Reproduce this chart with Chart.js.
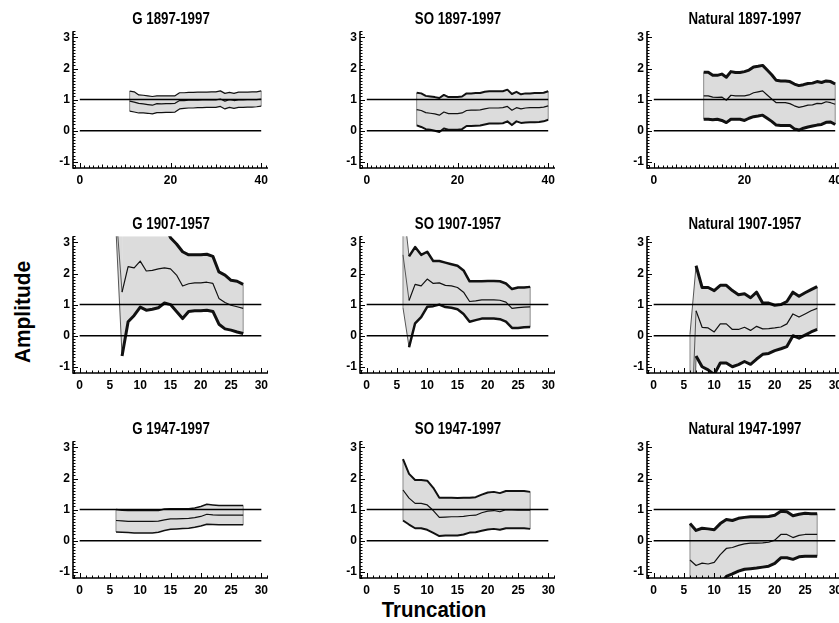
<!DOCTYPE html>
<html><head><meta charset="utf-8">
<script src="https://cdn.jsdelivr.net/npm/chart.js@4"></script>
<style>
html,body{margin:0;padding:0;background:#fff;overflow:hidden;width:839px;height:623px;position:relative;}
canvas.p{position:absolute;}
.lab{position:absolute;font-family:'Liberation Sans',Arial,sans-serif;font-weight:bold;color:#000;white-space:nowrap;line-height:1;}
</style></head><body>
<div class="lab" style="left:23px;top:312px;font-size:22px;transform:translate(-50%,-50%) rotate(-90deg) scaleX(0.95);">Amplitude</div>
<div class="lab" style="left:434px;top:610px;font-size:22px;transform:translate(-50%,-50%) scaleX(0.93);">Truncation</div>
<script>
// ---- categories (truncation) ----
const xLong = [11,12,13,14,15,16,17,18,19,20,21,22,23,24,25,26,27,28,29,30,31,32,33,34,35,36,37,38,39,40];
const xShort = [6,7,8,9,10,11,12,13,14,15,16,17,18,19,20,21,22,23,24,25,26,27];
// ---- tick labels ----
const yTicks = [-1,0,1,2,3];
const xTicksLong = [0,20,40];
const xTicksShort = [0,5,10,15,20,25,30];
const refLines = [0,1];

// ---- G 1897-1997 ----
const g1897Up  = [1.27,1.25,1.15,1.14,1.12,1.10,1.12,1.12,1.12,1.12,1.12,1.22,1.22,1.23,1.23,1.24,1.24,1.24,1.25,1.25,1.28,1.20,1.23,1.20,1.24,1.24,1.24,1.25,1.25,1.28];
const g1897Mid = [0.95,0.92,0.88,0.86,0.84,0.82,0.87,0.86,0.87,0.87,0.88,0.97,0.97,0.98,0.98,0.98,0.99,0.99,0.99,0.99,1.02,0.95,1.00,0.97,0.99,0.99,1.00,1.00,1.00,1.02];
const g1897Lo  = [0.63,0.60,0.57,0.57,0.56,0.54,0.58,0.58,0.59,0.59,0.60,0.70,0.72,0.73,0.73,0.74,0.74,0.75,0.75,0.75,0.78,0.70,0.75,0.72,0.75,0.75,0.76,0.76,0.77,0.79];
// ---- SO 1897-1997 ----
const so1897Up  = [1.22,1.20,1.12,1.10,1.08,1.05,1.15,1.08,1.08,1.08,1.10,1.20,1.20,1.21,1.21,1.25,1.27,1.27,1.27,1.27,1.32,1.18,1.25,1.17,1.20,1.20,1.21,1.21,1.22,1.27];
const so1897Mid = [0.68,0.65,0.58,0.56,0.54,0.50,0.60,0.55,0.55,0.55,0.57,0.65,0.66,0.66,0.67,0.70,0.73,0.73,0.73,0.74,0.78,0.66,0.74,0.70,0.73,0.74,0.74,0.74,0.76,0.80];
const so1897Lo  = [0.17,0.12,0.05,0.03,0.00,-0.04,0.07,0.03,0.03,0.03,0.05,0.15,0.15,0.16,0.17,0.20,0.23,0.23,0.23,0.24,0.30,0.18,0.30,0.25,0.26,0.27,0.27,0.28,0.30,0.35];
// ---- Natural 1897-1997 ----
const nat1897Up  = [1.88,1.88,1.78,1.78,1.82,1.72,1.90,1.87,1.87,1.90,1.95,2.05,2.07,2.10,1.95,1.80,1.62,1.60,1.60,1.58,1.50,1.45,1.48,1.52,1.53,1.58,1.55,1.60,1.58,1.50];
const nat1897Mid = [1.12,1.12,1.08,1.07,1.08,0.98,1.14,1.12,1.12,1.12,1.15,1.22,1.25,1.28,1.15,1.02,0.90,0.90,0.90,0.87,0.80,0.75,0.78,0.82,0.83,0.88,0.87,0.93,0.90,0.85];
const nat1897Lo  = [0.37,0.37,0.35,0.37,0.33,0.26,0.37,0.37,0.37,0.33,0.40,0.45,0.47,0.50,0.40,0.30,0.18,0.17,0.17,0.17,0.06,0.02,0.08,0.12,0.15,0.18,0.20,0.27,0.28,0.20];
// ---- G 1907-1957 ----
const g1907Up  = [7.5,4.8,4.6,4.4,4.5,4.0,3.9,3.8,3.6,3.15,2.95,2.70,2.60,2.60,2.60,2.62,2.55,2.05,1.95,1.78,1.75,1.65];
const g1907Mid = [4.0,1.40,2.22,2.18,2.40,2.08,2.10,2.15,2.18,2.15,1.95,1.60,1.67,1.70,1.70,1.72,1.68,1.20,1.07,0.98,0.93,0.88];
const g1907Lo  = [3.4,-0.65,0.45,0.65,0.92,0.82,0.85,0.90,1.05,1.00,0.78,0.55,0.78,0.80,0.80,0.82,0.78,0.37,0.22,0.18,0.12,0.07];
// ---- SO 1907-1957 ----
const so1907Up  = [4.3,2.55,2.85,2.60,2.70,2.40,2.40,2.35,2.30,2.25,2.10,1.75,1.75,1.75,1.76,1.76,1.75,1.68,1.50,1.55,1.55,1.57];
const so1907Mid = [2.60,1.13,1.65,1.60,1.82,1.68,1.70,1.62,1.60,1.55,1.40,1.10,1.12,1.15,1.15,1.15,1.14,1.08,0.88,0.90,0.92,0.93];
const so1907Lo  = [0.90,-0.37,0.40,0.60,0.93,0.95,1.00,0.92,0.90,0.85,0.70,0.45,0.50,0.55,0.55,0.55,0.53,0.45,0.25,0.25,0.27,0.28];
// ---- Natural 1907-1957 ----
const nat1907Up  = [0.05,2.25,1.55,1.55,1.45,1.62,1.62,1.45,1.32,1.35,1.22,1.40,1.05,1.05,0.98,1.00,1.10,1.40,1.27,1.38,1.48,1.58];
const nat1907Mid = [-4.1,0.80,0.27,0.25,0.12,0.38,0.38,0.20,0.20,0.27,0.17,0.30,0.22,0.23,0.25,0.28,0.38,0.70,0.60,0.70,0.80,0.88];
const nat1907Lo  = [-8.0,-0.65,-1.00,-1.10,-1.25,-0.88,-0.88,-1.00,-0.93,-0.83,-0.92,-0.75,-0.60,-0.57,-0.48,-0.42,-0.35,0.00,-0.08,0.02,0.12,0.20];
// ---- G 1947-1997 ----
const g1947Up  = [1.00,0.98,0.97,0.97,0.97,0.97,0.97,0.97,1.02,1.03,1.03,1.03,1.03,1.05,1.10,1.17,1.15,1.13,1.13,1.13,1.13,1.13];
const g1947Mid = [0.65,0.64,0.62,0.62,0.62,0.62,0.62,0.63,0.67,0.70,0.70,0.71,0.72,0.74,0.78,0.85,0.83,0.82,0.82,0.82,0.82,0.82];
const g1947Lo  = [0.28,0.27,0.26,0.25,0.25,0.25,0.25,0.27,0.33,0.37,0.38,0.39,0.40,0.43,0.47,0.53,0.52,0.51,0.51,0.51,0.51,0.51];
// ---- SO 1947-1997 ----
const so1947Up  = [2.62,2.15,1.95,1.95,1.93,1.70,1.38,1.38,1.38,1.37,1.38,1.38,1.40,1.48,1.55,1.57,1.53,1.60,1.60,1.60,1.60,1.57];
const so1947Mid = [1.63,1.37,1.20,1.20,1.15,0.97,0.75,0.76,0.77,0.77,0.78,0.81,0.82,0.90,0.95,0.97,0.93,1.00,0.99,0.98,0.98,0.98];
const so1947Lo  = [0.65,0.52,0.40,0.40,0.35,0.25,0.15,0.17,0.17,0.17,0.20,0.26,0.27,0.32,0.36,0.38,0.35,0.40,0.40,0.40,0.40,0.38];
// ---- Natural 1947-1997 ----
const nat1947Up  = [0.55,0.33,0.40,0.38,0.35,0.55,0.68,0.65,0.72,0.75,0.77,0.77,0.77,0.78,0.82,0.95,0.93,0.80,0.85,0.88,0.87,0.87];
const nat1947Mid = [-0.62,-0.80,-0.72,-0.75,-0.70,-0.45,-0.25,-0.22,-0.15,-0.10,-0.08,-0.08,-0.07,-0.05,0.02,0.20,0.20,0.10,0.17,0.20,0.20,0.20];
const nat1947Lo  = [-2.5,-2.2,-2.0,-1.9,-1.7,-1.4,-1.15,-1.07,-0.98,-0.92,-0.90,-0.88,-0.85,-0.82,-0.73,-0.55,-0.55,-0.60,-0.52,-0.50,-0.50,-0.50];

const FONT = "'Liberation Sans',Arial,sans-serif";
const colLeft = [73, 360, 647];
const rowTop = [29, 234, 439];
const AREA_W = 195, AREA_H = 139, TOP_PAD = 8, XAX_H = 30, YAX_W = 40, RIGHT_PAD = 12;

const axisPlugin = {
  id: 'inwardAxes',
  beforeDatasetsDraw(chart) {
    // thin grey edges closing the band at its first and last truncation
    const {ctx, chartArea: a, scales: {x, y}} = chart;
    const up = chart.data.datasets[3].data, lo = chart.data.datasets[4].data;
    ctx.save();
    ctx.beginPath(); ctx.rect(a.left, a.top, a.right - a.left, a.bottom - a.top); ctx.clip();
    ctx.strokeStyle = '#8a8a8a'; ctx.lineWidth = 1;
    ctx.beginPath();
    [0, up.length - 1].forEach(i => {
      const px = x.getPixelForValue(up[i].x);
      ctx.moveTo(px, y.getPixelForValue(up[i].y)); ctx.lineTo(px, y.getPixelForValue(lo[i].y));
    });
    ctx.stroke();
    ctx.restore();
  },
  afterDraw(chart) {
    const {ctx, chartArea: a, scales: {x, y}} = chart;
    const st = chart.options.plugins.inwardAxes;
    ctx.save();
    ctx.strokeStyle = '#000';
    ctx.lineWidth = 1;
    ctx.beginPath();
    for (let k = Math.ceil(y.min * 10); k <= Math.floor(y.max * 10); k++) {
      const py = Math.round(y.getPixelForValue(k / 10)) + 0.5;
      const len = (k % 10 === 0) ? 5 : 2.5;
      ctx.moveTo(a.left, py); ctx.lineTo(a.left + len, py);
    }
    for (let v = Math.ceil(x.min); v <= Math.floor(x.max); v++) {
      const px = Math.round(x.getPixelForValue(v)) + 0.5;
      const len = (v % st.major === 0) ? 5 : (v % 5 === 0 ? 3.5 : 2.5);
      ctx.moveTo(px, a.bottom); ctx.lineTo(px, a.bottom - len);
    }
    ctx.stroke();
    ctx.lineWidth = 1.6;
    ctx.beginPath();
    ctx.moveTo(a.left, a.top); ctx.lineTo(a.left, a.bottom); ctx.lineTo(a.right, a.bottom);
    ctx.stroke();
    ctx.restore();
  }
};

function panel(col, row, title, xs, up, mid, lo, long, bw, thinFirst) {
  const cv = document.createElement('canvas');
  cv.className = 'p';
  const W = YAX_W + AREA_W + RIGHT_PAD, H = TOP_PAD + AREA_H + XAX_H;
  cv.width = W; cv.height = H;
  cv.style.width = W + 'px'; cv.style.height = H + 'px';
  cv.style.left = (colLeft[col] - YAX_W) + 'px';
  cv.style.top = (rowTop[row] - TOP_PAD) + 'px';
  document.body.appendChild(cv);
  const t = document.createElement('div');
  t.className = 'lab';
  t.textContent = title;
  t.style.cssText = 'left:' + (colLeft[col] + AREA_W / 2) + 'px;top:' + (rowTop[row] - 10) + 'px;font-size:16px;transform:translate(-50%,-50%) scaleX(0.83);';
  document.body.appendChild(t);
  const xEnd = long ? 40 : 30;
  const pts = arr => xs.map((v, i) => ({x: v, y: arr[i]}));
  const hl = v => ({data: [{x: 0, y: v}, {x: xEnd, y: v}], borderColor: '#000', borderWidth: 1.5, pointRadius: 0, fill: false});
  const edgeSeg = {
    borderWidth: c => (thinFirst && c.p0DataIndex === 0) ? 1 : undefined,
    borderColor: c => (thinFirst && c.p0DataIndex === 0) ? '#555' : undefined
  };
  const tickFont = {family: FONT, size: 12, weight: 'bold'};
  new Chart(cv, {
    type: 'line',
    data: {datasets: [
      hl(refLines[0]), hl(refLines[1]),
      {data: pts(mid), borderColor: '#111', borderWidth: 1.2, pointRadius: 0, fill: false, segment: edgeSeg},
      {data: pts(up), borderColor: '#111', borderWidth: bw, pointRadius: 0, fill: {target: 4}, backgroundColor: '#dcdcdc', segment: edgeSeg},
      {data: pts(lo), borderColor: '#111', borderWidth: bw, pointRadius: 0, fill: false, segment: edgeSeg}
    ]},
    options: {
      responsive: false, animation: false, events: [],
      layout: {padding: {left: 0, right: RIGHT_PAD, top: TOP_PAD, bottom: 0}},
      elements: {line: {tension: 0, borderJoinStyle: 'round', borderCapStyle: 'butt'}},
      plugins: {
        legend: {display: false}, tooltip: {enabled: false}, title: {display: false},
        filler: {drawTime: 'beforeDatasetsDraw'},
        inwardAxes: {major: long ? 20 : 5}
      },
      scales: {
        x: {type: 'linear', min: long ? -1.5 : -1.1, max: long ? 41.5 : 31.1,
            grid: {display: false, drawTicks: false}, border: {display: false},
            afterBuildTicks: s => { s.ticks = (long ? xTicksLong : xTicksShort).map(v => ({value: v})); },
            afterFit: s => { s.height = XAX_H; },
            ticks: {color: '#000', font: tickFont, padding: 5, maxRotation: 0, autoSkip: false}},
        y: {type: 'linear', min: -1.2, max: 3.2,
            grid: {display: false, drawTicks: false}, border: {display: false},
            afterBuildTicks: s => { s.ticks = yTicks.map(v => ({value: v})); },
            afterFit: s => { s.width = YAX_W; },
            ticks: {color: '#000', font: tickFont, padding: 3}}
      }
    },
    plugins: [axisPlugin]
  });
}

panel(0, 0, 'G 1897-1997', xLong, g1897Up, g1897Mid, g1897Lo, true, 1.2, false);
panel(1, 0, 'SO 1897-1997', xLong, so1897Up, so1897Mid, so1897Lo, true, 2, false);
panel(2, 0, 'Natural 1897-1997', xLong, nat1897Up, nat1897Mid, nat1897Lo, true, 3, false);
panel(0, 1, 'G 1907-1957', xShort, g1907Up, g1907Mid, g1907Lo, false, 3, true);
panel(1, 1, 'SO 1907-1957', xShort, so1907Up, so1907Mid, so1907Lo, false, 2.5, true);
panel(2, 1, 'Natural 1907-1957', xShort, nat1907Up, nat1907Mid, nat1907Lo, false, 3, true);
panel(0, 2, 'G 1947-1997', xShort, g1947Up, g1947Mid, g1947Lo, false, 1.5, false);
panel(1, 2, 'SO 1947-1997', xShort, so1947Up, so1947Mid, so1947Lo, false, 2, false);
panel(2, 2, 'Natural 1947-1997', xShort, nat1947Up, nat1947Mid, nat1947Lo, false, 3, false);
</script>
</body></html>
